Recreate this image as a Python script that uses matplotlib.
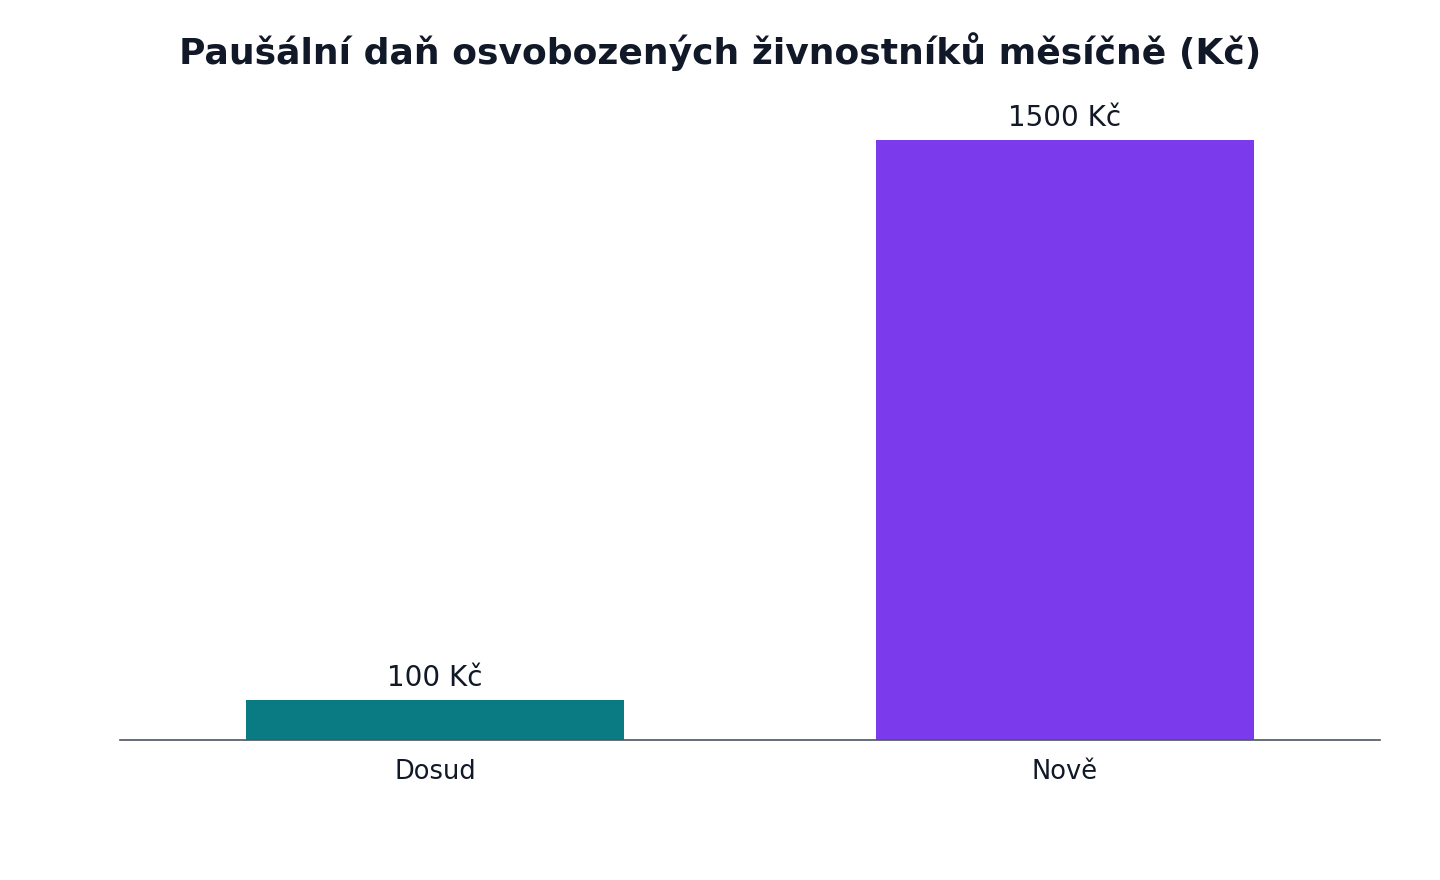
import matplotlib
matplotlib.use("Agg")
import matplotlib.pyplot as plt

categories = ["Dosud", "Nově"]
values = [100, 1500]
value_labels = ["100 Kč", "1500 Kč"]
bar_colors = ["#0a7b83", "#7c3aed"]

text_color = "#111827"

fig = plt.figure(figsize=(14.4, 8.8), dpi=100)
ax = fig.add_axes([120 / 1440, 140 / 880, 1260 / 1440, 660 / 880])

x = range(len(categories))
bars = ax.bar(x, values, width=0.6, color=bar_colors)

for bar, label in zip(bars, value_labels):
    ax.annotate(label, (bar.get_x() + bar.get_width() / 2, bar.get_height()),
                xytext=(0, 6), textcoords="offset points",
                ha="center", va="bottom", fontsize=20, color=text_color)

ax.set_xlim(-0.5, 1.5)
ax.set_ylim(0, 1650)
ax.set_xticks(list(x))
ax.set_xticklabels(categories, fontsize=18.5, color=text_color)
ax.tick_params(axis="x", length=0, pad=14)
ax.set_yticks([])
for side in ["top", "right", "left"]:
    ax.spines[side].set_visible(False)
ax.spines["bottom"].set_color("#4b5563")
ax.spines["bottom"].set_linewidth(1.2)

fig.text(0.5, 1 - 52 / 880, "Paušální daň osvobozených živnostníků měsíčně (Kč)",
         ha="center", va="center", fontsize=26, fontweight="bold", color=text_color)

fig.savefig("out.png", dpi=100)
